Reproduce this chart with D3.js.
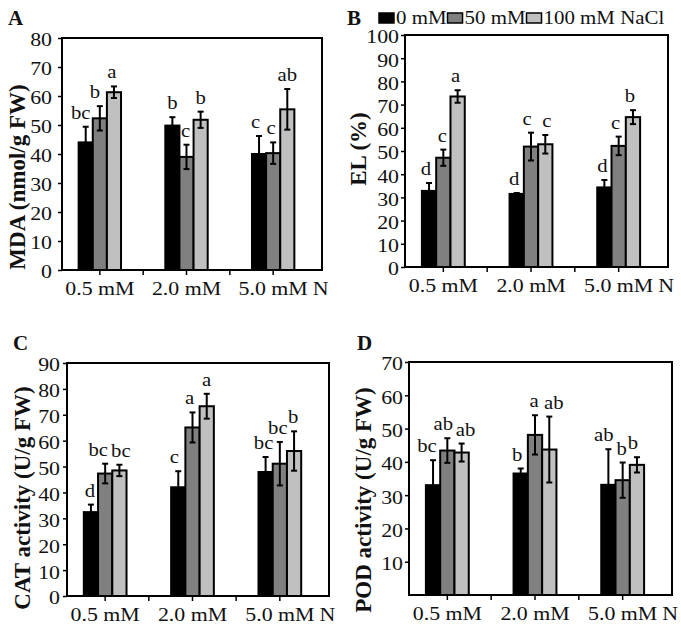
<!DOCTYPE html>
<html><head><meta charset="utf-8">
<script src="https://cdn.jsdelivr.net/npm/d3@7"></script>
<style>body{margin:0;background:#fff} svg{display:block}</style>
</head><body>
<script>
// ---------- data ----------
const categories = ["0.5 mM", "2.0 mM", "5.0 mM"];
const seriesNames = ["0 mM", "50 mM", "100 mM NaCl"];

// A: MDA (nmol/g FW)
const mda0 = [44.0, 49.8, 40.0],  mda0Err = [5.4, 2.9, 6.2];
const mda50 = [52.3, 39.0, 40.3], mda50Err = [4.2, 4.2, 3.7];
const mda100 = [61.3, 51.8, 55.4], mda100Err = [2.0, 2.8, 7.0];
const mdaLetters = [["bc","b","a"],["b","c","b"],["c","c","ab"]];

// B: EL (%)
const el0 = [32.8, 31.5, 34.3],  el0Err = [3.4, 0.4, 3.2];
const el50 = [47.1, 51.9, 52.2], el50Err = [3.5, 6.0, 4.0];
const el100 = [73.5, 52.9, 64.6], el100Err = [2.7, 4.0, 3.0];
const elLetters = [["d","c","a"],["d","c","c"],["d","c","b"]];

// C: CAT activity (U/g FW)
const cat0 = [32.4, 42.0, 47.9],  cat0Err = [2.9, 6.2, 5.8];
const cat50 = [47.3, 65.1, 51.1], cat50Err = [3.8, 5.8, 8.4];
const cat100 = [48.5, 73.3, 56.0], cat100Err = [2.2, 4.8, 7.6];
const catLetters = [["d","bc","bc"],["c","a","a"],["bc","bc","b"]];

// D: POD activity (U/g FW)
const pod0 = [33.0, 36.5, 33.1],  pod0Err = [7.5, 1.5, 10.7];
const pod50 = [43.4, 48.1, 34.5], pod50Err = [3.7, 5.9, 5.3];
const pod100 = [42.8, 43.7, 39.1], pod100Err = [2.7, 9.9, 2.3];
const podLetters = [["bc","ab","ab"],["b","a","ab"],["ab","b","b"]];

const yTicksA = [0,10,20,30,40,50,60,70,80];
const yTicksB = [0,10,20,30,40,50,60,70,80,90,100];
const yTicksC = [0,10,20,30,40,50,60,70,80,90];
const yTicksD = [10,20,30,40,50,60,70];

// ---------- layout ----------
const FONT = "'Liberation Serif','Times New Roman',Times,serif";
const colors = ["#000000", "#808080", "#c0c0c0"];
const STRETCH = 1.15;
// horizontal nudges of the significance letters (layout only)
const nudgeA = [[-5,-5,-2],[0,-1,0],[-3.5,-2,0]];
const nudgeB = [[-3,-1,-2],[-2.5,-4,1.5],[-2,-3,-3]];
const nudgeC = [[-1,-7,1.5],[-4,-3,0],[-2,-2,-1]];
const nudgeD = [[-6,-4,4],[-3.5,-1,4.5],[-4.5,-1,-4]];

const panels = [
  {tag:"A", tagPos:[8,25], yLabel:"MDA (nmol/g FW)", yLabelPos:[17,177], yMax:80, ticks:yTicksA, pad:6,
   means:[mda0,mda50,mda100], errs:[mda0Err,mda50Err,mda100Err], letters:mdaLetters, nudge:nudgeA,
   box:{l:62,t:38,r:322,b:270}},
  {tag:"B", tagPos:[347,25], yLabel:"EL (%)", yLabelPos:[358,149], yMax:100, ticks:yTicksB, pad:2,
   means:[el0,el50,el100], errs:[el0Err,el50Err,el100Err], letters:elLetters, nudge:nudgeB,
   box:{l:405,t:35,r:668,b:267}},
  {tag:"C", tagPos:[13,350], yLabel:"CAT activity (U/g FW)", yLabelPos:[22,498], yMax:90, ticks:yTicksC, pad:3,
   means:[cat0,cat50,cat100], errs:[cat0Err,cat50Err,cat100Err], letters:catLetters, nudge:nudgeC,
   box:{l:67,t:363,r:329,b:596}},
  {tag:"D", tagPos:[357,350], yLabel:"POD activity (U/g FW)", yLabelPos:[363,500], yMax:70, ticks:yTicksD, pad:2,
   means:[pod0,pod50,pod100], errs:[pod0Err,pod50Err,pod100Err], letters:podLetters, nudge:nudgeD,
   box:{l:409,t:362,r:672,b:595}}
];

function stretch(sel, k) {
  sel.each(function () {
    const L = this.getComputedTextLength();
    d3.select(this).attr("textLength", L * k).attr("lengthAdjust", "spacingAndGlyphs");
  });
}

const svg = d3.select("body").append("svg")
  .attr("width", 681).attr("height", 627)
  .style("font-family", FONT);

panels.forEach(p => {
  const g = svg.append("g");
  const B = p.box;
  const x0 = d3.scaleBand().domain(categories).range([B.l - 5.5, B.r - 5.5]);
  const y = d3.scaleLinear().domain([0, p.yMax]).range([B.b, B.t]);
  const bw = x0.bandwidth() * 0.163;
  const xs = d3.scaleBand().domain(seriesNames).range([-1.5 * bw, 1.5 * bw]);

  categories.forEach((c, ci) => {
    seriesNames.forEach((s, si) => {
      const v = p.means[si][ci], e = p.errs[si][ci];
      const bx = x0(c) + x0.bandwidth() / 2 + xs(s);
      const mx = bx + bw / 2;
      g.append("rect")
        .attr("x", bx).attr("y", y(v))
        .attr("width", bw).attr("height", y(0) - y(v))
        .attr("fill", colors[si]).attr("stroke", "#000").attr("stroke-width", 2);
      const eb = g.append("g").attr("stroke", "#000").attr("stroke-width", 2);
      eb.append("line").attr("x1", mx).attr("x2", mx).attr("y1", y(v - e)).attr("y2", y(v + e));
      eb.append("line").attr("x1", mx - 3).attr("x2", mx + 3).attr("y1", y(v + e)).attr("y2", y(v + e));
      eb.append("line").attr("x1", mx - 3).attr("x2", mx + 3).attr("y1", y(v - e)).attr("y2", y(v - e));
      const t = g.append("text")
        .attr("x", mx + p.nudge[ci][si]).attr("y", y(v + e) - 8)
        .attr("text-anchor", "middle")
        .attr("font-size", 18).attr("fill", "#111")
        .text(p.letters[ci][si]);
      stretch(t, STRETCH);
    });
  });

  // frame
  g.append("rect").attr("x", B.l).attr("y", B.t)
    .attr("width", B.r - B.l).attr("height", B.b - B.t)
    .attr("fill", "none").attr("stroke", "#000").attr("stroke-width", 2);

  // y axis
  const yAxis = d3.axisLeft(y).tickValues(p.ticks).tickSize(4).tickPadding(p.pad)
    .tickFormat(d3.format("d"));
  const ya = g.append("g").attr("transform", `translate(${B.l},0)`).call(yAxis);
  ya.select(".domain").remove();
  ya.selectAll(".tick line").attr("stroke", "#000").attr("stroke-width", 1.5);
  ya.selectAll(".tick text").attr("font-size", 19).attr("font-family", FONT)
    .attr("fill", "#111").attr("dy", "0.42em");
  stretch(ya.selectAll(".tick text"), STRETCH);

  // x axis
  const xAxis = d3.axisBottom(x0).tickSize(5).tickPadding(6);
  const xa = g.append("g").attr("transform", `translate(0,${B.b})`).call(xAxis);
  xa.select(".domain").remove();
  xa.selectAll(".tick line").attr("stroke", "#000").attr("stroke-width", 1.5);
  xa.selectAll(".tick text").attr("font-size", 19).attr("font-family", FONT).attr("fill", "#111")
    .attr("dy", 14);
  let lastW = 0;
  xa.selectAll(".tick text").each(function () { lastW = this.getComputedTextLength() * STRETCH; });
  stretch(xa.selectAll(".tick text"), STRETCH);
  categories.slice(1).forEach(c => {
    g.append("line").attr("x1", x0(c)).attr("x2", x0(c))
      .attr("y1", B.b).attr("y2", B.b + 5).attr("stroke", "#000").attr("stroke-width", 1.5);
  });
  // unit "N" after last category label
  const lastX = x0(categories[categories.length - 1]) + x0.bandwidth() / 2;
  const nT = g.append("text")
    .attr("x", lastX + lastW / 2 + 5)
    .attr("y", B.b + 25)
    .attr("font-size", 19).attr("fill", "#111")
    .text("N");
  stretch(nT, STRETCH);

  // y label
  g.append("text")
    .attr("transform", `translate(${p.yLabelPos[0]},${p.yLabelPos[1]}) rotate(-90)`)
    .attr("text-anchor", "middle").attr("dominant-baseline", "central")
    .attr("font-size", 23).attr("font-weight", "bold").attr("fill", "#111")
    .text(p.yLabel);

  // panel tag
  g.append("text").attr("x", p.tagPos[0]).attr("y", p.tagPos[1])
    .attr("font-size", 21).attr("font-weight", "bold").attr("fill", "#111")
    .text(p.tag);
});

// legend
const leg = svg.append("g");
let lx = 379;
seriesNames.forEach((s, i) => {
  leg.append("rect").attr("x", lx).attr("y", 13).attr("width", 15).attr("height", 10)
    .attr("fill", colors[i]).attr("stroke", "#000").attr("stroke-width", 1.5);
  const t = leg.append("text").attr("x", lx + 17).attr("y", 24)
    .attr("font-size", 19).attr("fill", "#111").text(s);
  const w = t.node().getComputedTextLength() * 1.1;
  stretch(t, 1.1);
  lx += 17 + w + 1;
});
</script>
</body></html>
